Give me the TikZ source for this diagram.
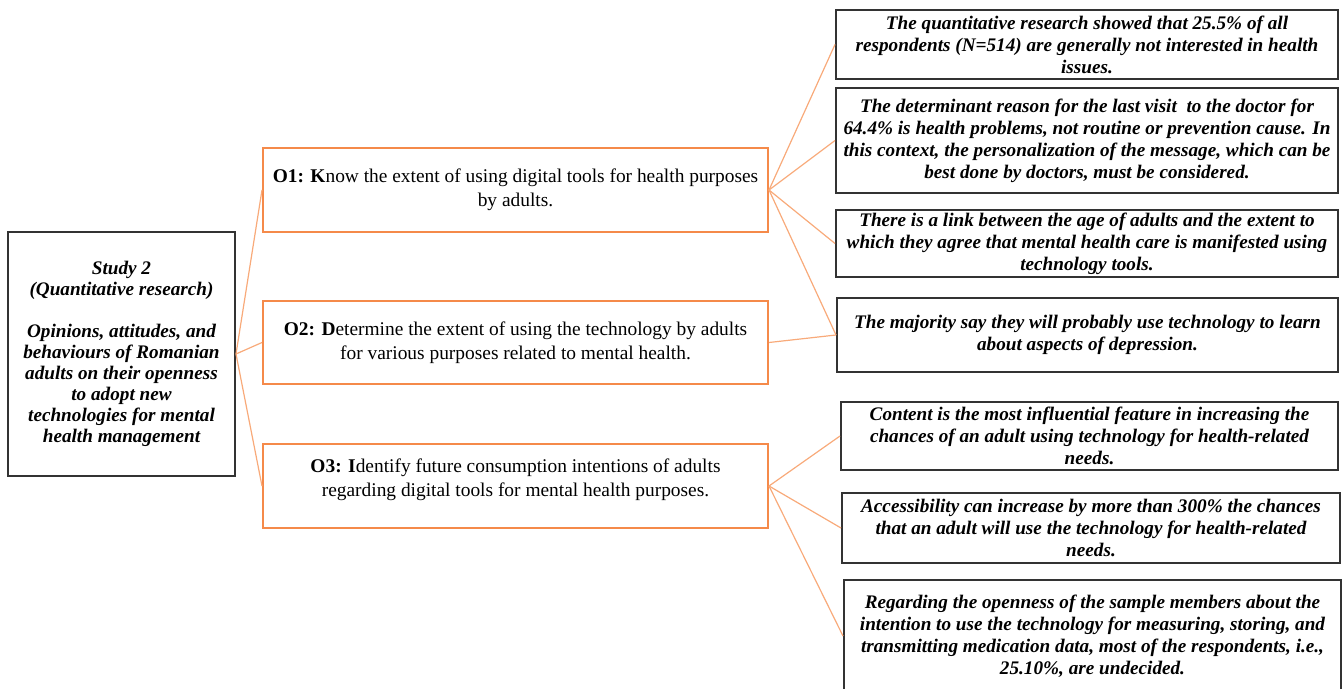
\documentclass[tikz,border=0pt]{standalone}
\usepackage{fontspec}
\setmainfont{Liberation Serif}
\definecolor{edge}{HTML}{333333}
\definecolor{ora}{HTML}{F58A4A}
\definecolor{oral}{HTML}{F8AA7A}
\usetikzlibrary{positioning}
\tikzset{
  box/.style={draw=edge,line width=1pt,inner sep=0pt,align=center,font=\fontsize{9.6}{11}\selectfont\bfseries\itshape},
  obox/.style={draw=ora,line width=1pt,inner sep=0pt,align=center,font=\fontsize{9.7}{12}\selectfont},
  fbox/.style={box,minimum width=251pt},
  link/.style={draw=oral,line width=0.6pt},
}
\begin{document}
\begin{tikzpicture}[x=0.5pt,y=-0.5pt]
\useasboundingbox (0,0) rectangle (1343,689);
% study
\node[box,minimum width=113.5pt,minimum height=122pt,font=\fontsize{9.6}{10.5}\selectfont\bfseries\itshape] (study) at (121.5,354)
  {Study 2\\(Quantitative research)\\[10.5pt]Opinions, attitudes, and\\behaviours of Romanian\\adults on their openness\\to adopt new\\technologies for mental\\health management};
% objectives
\node[obox,minimum width=252.5pt,minimum height=42pt] (o1) at (515.5,190)
  {\textbf{O1: K}now the extent of using digital tools for health purposes\\by adults.};
\node[obox,minimum width=252.5pt,minimum height=41.5pt] (o2) at (515.5,342.5)
  {\textbf{O2: D}etermine the extent of using the technology by adults\\for various purposes related to mental health.};
\node[obox,minimum width=252.5pt,minimum height=42pt] (o3) at (515.5,486)
  {\textbf{O3: I}dentify future consumption intentions of adults\\regarding digital tools for mental health purposes.\\[-4pt]\mbox{}};
% findings
\node[fbox,minimum height=34.5pt] (f1) at (1087,44.5)
  {The quantitative research showed that 25.5\% of all\\respondents (N=514) are generally not interested in health\\issues.};
\node[fbox,minimum height=52.5pt] (f2) at (1087,140.5)
  {The determinant reason for the last visit\ \ to the doctor for\\64.4\% is health problems, not routine or prevention cause. In\\this context, the personalization of the message, which can be\\best done by doctors, must be considered.};
\node[fbox,minimum height=33.5pt] (f3) at (1087,243.5)
  {There is a link between the age of adults and the extent to\\which they agree that mental health care is manifested using\\technology tools.};
\node[fbox,minimum width=250.5pt,minimum height=37pt] (f4) at (1087.5,335)
  {The majority say they will probably use technology to learn\\about aspects of depression.};
\node[fbox,minimum width=248.5pt,minimum height=34pt] (f5) at (1089.5,436)
  {Content is the most influential feature in increasing the\\chances of an adult using technology for health-related\\needs.};
\node[fbox,minimum width=249pt,minimum height=35pt] (f6) at (1091,528)
  {Accessibility can increase by more than 300\% the chances\\that an adult will use the technology for health-related\\needs.};
\node[fbox,minimum width=248.5pt,minimum height=56pt] (f7) at (1092.5,636)
  {Regarding the openness of the sample members about the\\intention to use the technology for measuring, storing, and\\transmitting medication data, most of the respondents, i.e.,\\25.10\%, are undecided.};
% links
\foreach \o in {o1,o2,o3}
  \draw[link] (study.east) -- (\o.west);
\foreach \f in {f1,f2,f3,f4}
  \draw[link] (o1.east) -- (\f.west);
\draw[link] (o2.east) -- (f4.west);
\foreach \f in {f5,f6,f7}
  \draw[link] (o3.east) -- (\f.west);
\end{tikzpicture}
\end{document}
